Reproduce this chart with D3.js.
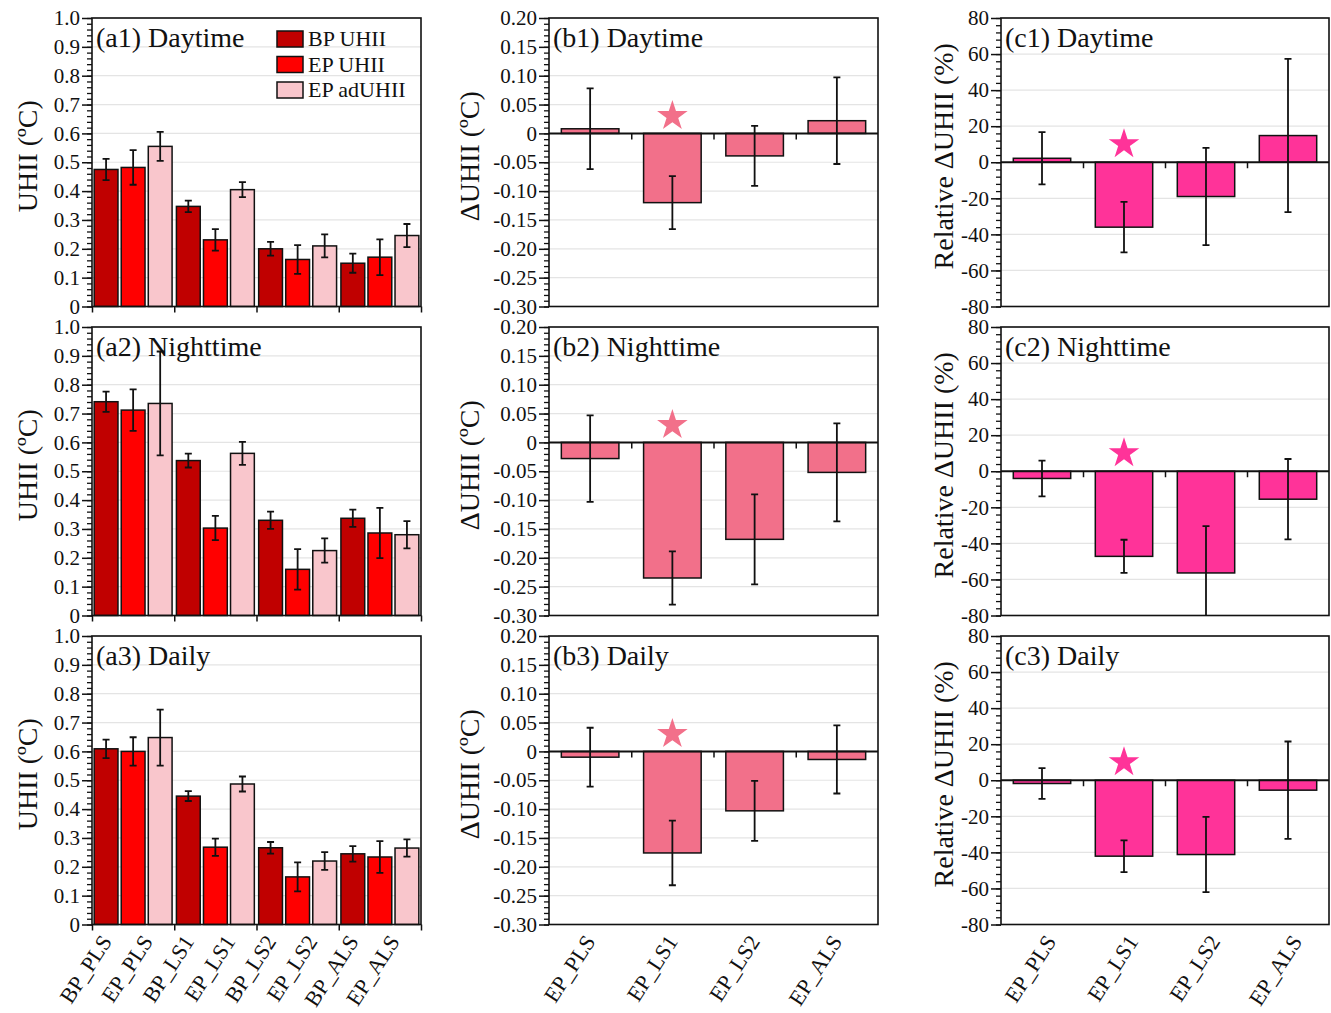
<!DOCTYPE html>
<html>
<head>
<meta charset="utf-8">
<script src="https://cdn.jsdelivr.net/npm/d3@7/dist/d3.min.js"></script>
<style>
  html, body { margin: 0; padding: 0; background: #fff; }
  svg { display: block; }
  text { font-family: "Liberation Serif", "Times New Roman", serif; fill: #111; }
</style>
</head>
<body>
<svg id="chart" width="1331" height="1013"></svg>
<script>
// ---------------- DATA ----------------
const groups = ["PLS", "LS1", "LS2", "ALS"];
const seriesNames = ["BP UHII", "EP UHII", "EP adUHII"];
const xLabelsA = ["BP_PLS", "EP_PLS", "BP_LS1", "EP_LS1", "BP_LS2", "EP_LS2", "BP_ALS", "EP_ALS"];
const xLabelsBC = ["EP_PLS", "EP_LS1", "EP_LS2", "EP_ALS"];
const periods = ["Daytime", "Nighttime", "Daily"];

// UHII (°C) per period: [BP, EP, EP ad]
const dayBP = [0.475, 0.347, 0.200, 0.150];
const dayBPErr = [0.037, 0.020, 0.024, 0.033];
const dayEP = [0.482, 0.231, 0.163, 0.171];
const dayEPErr = [0.060, 0.037, 0.050, 0.062];
const dayAd = [0.555, 0.405, 0.210, 0.246];
const dayAdErr = [0.050, 0.026, 0.040, 0.040];

const nightBP = [0.741, 0.537, 0.330, 0.337];
const nightBPErr = [0.035, 0.024, 0.030, 0.030];
const nightEP = [0.712, 0.303, 0.160, 0.286];
const nightEPErr = [0.072, 0.042, 0.070, 0.087];
const nightAd = [0.735, 0.562, 0.225, 0.280];
const nightAdErr = [0.180, 0.040, 0.042, 0.047];

const dailyBP = [0.609, 0.445, 0.266, 0.245];
const dailyBPErr = [0.032, 0.017, 0.020, 0.027];
const dailyEP = [0.600, 0.268, 0.165, 0.234];
const dailyEPErr = [0.049, 0.030, 0.050, 0.055];
const dailyAd = [0.648, 0.487, 0.220, 0.265];
const dailyAdErr = [0.097, 0.026, 0.031, 0.030];

// ΔUHII (°C)
const deltaDay = [0.008, -0.120, -0.039, 0.022];
const deltaDayErr = [0.070, 0.046, 0.052, 0.075];
const deltaNight = [-0.028, -0.235, -0.168, -0.052];
const deltaNightErr = [0.075, 0.046, 0.078, 0.085];
const deltaDaily = [-0.010, -0.176, -0.103, -0.014];
const deltaDailyErr = [0.051, 0.056, 0.052, 0.059];

// Relative ΔUHII (%)
const relDay = [2.2, -36.0, -19.0, 14.8];
const relDayErr = [14.5, 14.0, 27.0, 42.5];
const relNight = [-4.0, -47.2, -56.4, -15.5];
const relNightErr = [9.9, 9.2, 26.0, 22.3];
const relDaily = [-1.8, -42.1, -41.2, -5.5];
const relDailyErr = [8.5, 8.8, 20.9, 27.0];

// significance star (group and y position)
const starGroup = "LS1";
const starDeltaY = 0.03;
const starRelY = 10;

// Axis ticks
const ticksA = [0, 0.1, 0.2, 0.3, 0.4, 0.5, 0.6, 0.7, 0.8, 0.9, 1.0];
const tickLabelsA = ["0", "0.1", "0.2", "0.3", "0.4", "0.5", "0.6", "0.7", "0.8", "0.9", "1.0"];
const ticksB = [-0.30, -0.25, -0.20, -0.15, -0.10, -0.05, 0, 0.05, 0.10, 0.15, 0.20];
const tickLabelsB = ["-0.30", "-0.25", "-0.20", "-0.15", "-0.10", "-0.05", "0", "0.05", "0.10", "0.15", "0.20"];
const ticksC = [-80, -60, -40, -20, 0, 20, 40, 60, 80];
const tickLabelsC = ["-80", "-60", "-40", "-20", "0", "20", "40", "60", "80"];

// ---------------- STYLE / LAYOUT ----------------
const colorsA = ["#C00000", "#FF0000", "#F9C6CC"];
const colorB = "#F2708A";
const colorC = "#FF3399";
const cols = [{L: 92, R: 421}, {L: 549, R: 878}, {L: 1001, R: 1329}];
const rows = [{T: 18, B: 306.5}, {T: 327, B: 615.5}, {T: 636, B: 924.5}];
const yLabelX = [37, 479, 953];
const labelAngle = -57;

const svg = d3.select("#chart");

const uhiiData = [
  [[dayBP, dayBPErr], [dayEP, dayEPErr], [dayAd, dayAdErr]],
  [[nightBP, nightBPErr], [nightEP, nightEPErr], [nightAd, nightAdErr]],
  [[dailyBP, dailyBPErr], [dailyEP, dailyEPErr], [dailyAd, dailyAdErr]]
];
const deltaData = [[deltaDay, deltaDayErr], [deltaNight, deltaNightErr], [deltaDaily, deltaDailyErr]];
const relData = [[relDay, relDayErr], [relNight, relNightErr], [relDaily, relDailyErr]];

let clipId = 0;

function yAxes(g, y, L, ticks, labels, minorStep) {
  const dom = y.domain();
  const minor = d3.range(Math.round((dom[1] - dom[0]) / minorStep) + 1)
    .map(i => dom[0] + i * minorStep);
  g.append("g").attr("transform", `translate(${L},0)`)
    .call(d3.axisLeft(y).tickValues(minor).tickSize(5).tickFormat(""))
    .call(s => s.select(".domain").remove())
    .call(s => s.selectAll("line").attr("stroke", "#111").attr("stroke-width", 1.3));
  g.append("g").attr("transform", `translate(${L},0)`)
    .call(d3.axisLeft(y).tickValues(ticks).tickSize(10).tickPadding(2)
      .tickFormat((d, i) => labels[i]))
    .call(s => s.select(".domain").remove())
    .call(s => s.selectAll("line").attr("stroke", "#111").attr("stroke-width", 1.5))
    .call(s => s.selectAll("text").attr("font-size", 21).attr("fill", "#111")
      .attr("font-family", '"Liberation Serif", "Times New Roman", serif'));
}

function grid(g, y, L, R, ticks) {
  g.append("g").selectAll("line").data(ticks).join("line")
    .attr("x1", L).attr("x2", R).attr("y1", d => y(d)).attr("y2", d => y(d))
    .attr("stroke", "#E4E4E4").attr("stroke-width", 1.2);
}

function errorBars(g, items, clip) {
  const eg = g.append("g").attr("clip-path", `url(#${clip})`);
  items.forEach(d => {
    eg.append("line").attr("x1", d.x).attr("x2", d.x).attr("y1", d.y1).attr("y2", d.y2)
      .attr("stroke", "#111").attr("stroke-width", 1.8);
    [d.y1, d.y2].forEach(yy => eg.append("line")
      .attr("x1", d.x - 3.5).attr("x2", d.x + 3.5).attr("y1", yy).attr("y2", yy)
      .attr("stroke", "#111").attr("stroke-width", 1.8));
  });
}

function makeClip(L, R, T, B) {
  const id = "clip" + (clipId++);
  svg.append("clipPath").attr("id", id).append("rect")
    .attr("x", L).attr("y", T).attr("width", R - L).attr("height", B - T);
  return id;
}

function frame(g, L, R, T, B) {
  g.append("rect").attr("x", L).attr("y", T).attr("width", R - L).attr("height", B - T)
    .attr("fill", "none").attr("stroke", "#111").attr("stroke-width", 1.6);
}

function title(g, L, T, txt) {
  g.append("text").attr("x", L + 4).attr("y", T + 29).attr("font-size", 28).text(txt);
}

function yTitle(g, x, T, B, txt) {
  g.append("text").attr("transform", `translate(${x},${(T + B) / 2 - 6}) rotate(-90)`)
    .attr("text-anchor", "middle").attr("font-size", 28).text(txt);
}

function xLabels(g, scale, B, off) {
  g.append("g").attr("transform", `translate(0,${B})`)
    .call(d3.axisBottom(scale).tickSize(0))
    .call(s => s.select(".domain").remove())
    .call(s => s.selectAll("text")
      .attr("x", 0).attr("y", 0).attr("dy", 0)
      .attr("text-anchor", "end")
      .attr("transform", `translate(${off},17) rotate(${labelAngle})`)
      .attr("font-size", 22).attr("fill", "#111")
      .attr("font-family", '"Liberation Serif", "Times New Roman", serif'));
}

// ---------------- COLUMN A ----------------
rows.forEach((r, ri) => {
  const {L, R} = cols[0];
  const {T, B} = r;
  const g = svg.append("g");
  const y = d3.scaleLinear().domain([0, 1]).range([B, T]);
  const x0 = d3.scaleBand().domain(groups).range([L, R]).padding(0);
  const x1 = d3.scaleBand().domain(seriesNames).range([0, x0.bandwidth()])
    .paddingInner(0.12).paddingOuter(0.08);
  const clip = makeClip(L, R, T, B);

  grid(g, y, L, R, ticksA.slice(1));
  const items = [];
  seriesNames.forEach((s, si) => {
    const [vals, errs] = uhiiData[ri][si];
    g.append("g").selectAll("rect").data(groups).join("rect")
      .attr("x", (d) => x0(d) + x1(s))
      .attr("y", (d, i) => y(vals[i]))
      .attr("width", x1.bandwidth())
      .attr("height", (d, i) => y(0) - y(vals[i]))
      .attr("fill", colorsA[si]).attr("stroke", "#111").attr("stroke-width", 1.5);
    groups.forEach((gname, i) => items.push({
      x: x0(gname) + x1(s) + x1.bandwidth() / 2,
      y1: y(vals[i] + errs[i]), y2: y(vals[i] - errs[i])
    }));
  });
  yAxes(g, y, L, ticksA, tickLabelsA, 0.02);
  const xb = d3.scaleLinear().domain([0, groups.length]).range([L, R]);
  g.append("g").attr("transform", `translate(0,${B})`)
    .call(d3.axisBottom(xb).tickValues(d3.range(groups.length + 1)).tickSize(6).tickFormat(""))
    .call(s => s.select(".domain").remove())
    .call(s => s.selectAll("line").attr("stroke", "#111").attr("stroke-width", 1.5));
  title(g, L, T, `(a${ri + 1}) ${periods[ri]}`);
  errorBars(g, items, clip);
  frame(g, L, R, T, B);
  yTitle(g, yLabelX[0], T, B, "UHII (ºC)");

  if (ri === 2) {
    xLabels(g, d3.scaleBand().domain(xLabelsA).range([L, R]), B, 0);
  }
  if (ri === 0) {
    const lg = g.append("g");
    seriesNames.forEach((s, si) => {
      const ly = T + 13 + si * 25.5;
      lg.append("rect").attr("x", 277).attr("y", ly).attr("width", 26).attr("height", 16)
        .attr("fill", colorsA[si]).attr("stroke", "#111").attr("stroke-width", 1.5);
      lg.append("text").attr("x", 308).attr("y", ly + 15).attr("font-size", 22).text(s);
    });
  }
});

// ---------------- COLUMNS B & C ----------------
function diffPanel(ci, ri, data, domain, ticks, labels, minorStep, color, starY, ytitle, prefix, labelOff) {
  const {L, R} = cols[ci];
  const {T, B} = rows[ri];
  const g = svg.append("g");
  const y = d3.scaleLinear().domain(domain).range([B, T]);
  const x = d3.scaleBand().domain(groups).range([L, R]).paddingInner(0.3).paddingOuter(0.15);
  const clip = makeClip(L, R, T, B);
  const [vals, errs] = data;

  grid(g, y, L, R, ticks.filter(t => t !== 0 && t !== domain[0]));
  g.append("g").selectAll("rect").data(groups).join("rect")
    .attr("x", d => x(d))
    .attr("y", (d, i) => Math.min(y(vals[i]), y(0)))
    .attr("width", x.bandwidth())
    .attr("height", (d, i) => Math.abs(y(vals[i]) - y(0)))
    .attr("fill", color).attr("stroke", "#111").attr("stroke-width", 1.5);
  g.append("line").attr("x1", L).attr("x2", R).attr("y1", y(0)).attr("y2", y(0))
    .attr("stroke", "#111").attr("stroke-width", 2);
  const xb = d3.scaleLinear().domain([0, groups.length]).range([L, R]);
  g.append("g").attr("transform", `translate(0,${y(0)})`)
    .call(d3.axisBottom(xb).tickValues(d3.range(1, groups.length)).tickSize(6).tickFormat(""))
    .call(s => s.select(".domain").remove())
    .call(s => s.selectAll("line").attr("stroke", "#111").attr("stroke-width", 1.5));
  yAxes(g, y, L, ticks, labels, minorStep);
  g.append("path").attr("d", d3.symbol(d3.symbolStar).size(290)())
    .attr("transform", `translate(${x(starGroup) + x.bandwidth() / 2},${y(starY)})`)
    .attr("fill", color);
  title(g, L, T, `(${prefix}${ri + 1}) ${periods[ri]}`);
  const items = groups.map((gname, i) => ({
    x: x(gname) + x.bandwidth() / 2,
    y1: y(vals[i] + errs[i]), y2: y(vals[i] - errs[i])
  }));
  errorBars(g, items, clip);
  frame(g, L, R, T, B);
  yTitle(g, yLabelX[ci], T, B, ytitle);

  if (ri === 2) {
    xLabels(g, d3.scaleBand().domain(xLabelsBC).range([L, R]).paddingInner(0.3).paddingOuter(0.15), B, labelOff);
  }
}

rows.forEach((r, ri) => {
  diffPanel(1, ri, deltaData[ri], [-0.30, 0.20], ticksB, tickLabelsB, 0.01, colorB,
    starDeltaY, "ΔUHII (ºC)", "b", 6);
  diffPanel(2, ri, relData[ri], [-80, 80], ticksC, tickLabelsC, 4, colorC,
    starRelY, "Relative ΔUHII (%)", "c", 15);
});
</script>
</body>
</html>
